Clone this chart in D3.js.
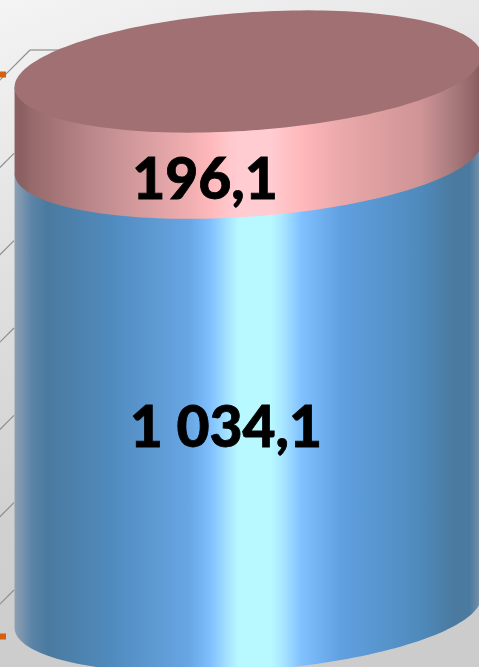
<!DOCTYPE html>
<html><head><meta charset="utf-8">
<script src="https://cdn.jsdelivr.net/npm/d3@7"></script>
<style>html,body{margin:0;padding:0;background:#ddd;overflow:hidden}svg{display:block}</style>
</head><body>
<script>
const seriesNames = ["blue", "rose"];
const seriesValues = [1034.1, 196.1];
const valueLabels = ["1 034,1", "196,1"];
const axisTicks = [0, 200, 400, 600, 800, 1000, 1200];
const surfaceOffsets = [0, 0.015, 0.035, 0.07, 0.2, 0.375, 0.42, 0.46, 0.48, 0.55, 0.575, 0.615, 0.70, 0.87, 0.94, 0.975, 1];
const blueShades = ["#8ba0b3","#7b95ad","#5c85a8","#4a7aa0","#4f8abc","#68a6e4","#80c0ff","#a8e6ff","#b8f8ff","#b8f8ff","#a8e6ff","#80c0ff","#60a0e0","#4f8abc","#4a7aa0","#4a7aa0","#7d93a8"];
const roseShades = ["#8a6062","#8a6062","#96696b","#a07173","#c48f92","#f0aeb0","#ffb8bb","#ffc8cc","#ffccd2","#ffccd2","#ffc4c8","#ffb8bb","#eaa8aa","#cf9496","#a87a7c","#98696c","#85595c"];
const roofColor = "#a07073";
const W = 479, H = 667;
const svg = d3.select("body").append("svg").attr("width", W).attr("height", H);
const defs = svg.append("defs");
const bg = defs.append("linearGradient").attr("id","bg").attr("x1",0).attr("y1",0).attr("x2",0.25).attr("y2",1);
[[0,"#f4f4f4"],[0.35,"#e2e2e2"],[0.75,"#d0d0d0"],[1,"#cccccc"]].forEach(d=>bg.append("stop").attr("offset",d[0]).attr("stop-color",d[1]));
svg.append("rect").attr("width",W).attr("height",H).attr("fill","url(#bg)");

const y = d3.scaleLinear().domain([0, 1230.2]).range([612, 71.5]);
const x = d3.scaleLinear().domain([-1, 1]).range([14, 482]);
const cx = x(0), a = (x(1) - x(-1)) / 2, b = 59, tilt = -4.07;
const rad = tilt * Math.PI / 180;
const extX = Math.sqrt(a*a*Math.cos(rad)**2 + b*b*Math.sin(rad)**2);
const extY = (a*a - b*b) * Math.sin(-rad) * Math.cos(rad) / extX;

function gradient(id, colors) {
  const g = defs.append("linearGradient").attr("id", id).attr("gradientUnits","userSpaceOnUse")
    .attr("x1", cx - extX).attr("x2", cx + extX).attr("y1", 0).attr("y2", 0);
  surfaceOffsets.forEach((o,i)=>g.append("stop").attr("offset",o).attr("stop-color",colors[i]));
}
gradient("g0", blueShades); gradient("g1", roseShades);

const grid = svg.append("g").attr("fill","none").attr("stroke","#8e8e8e").attr("stroke-width",1.2);
const wall = d3.scaleLinear().domain([0,1200]).range([590, 66]);
axisTicks.forEach(t=>{
  const yy = wall(t);
  grid.append("line").attr("x1",-2).attr("y1",yy+16).attr("x2",x(-1)+ (t===1200?16:0)).attr("y2",yy+16-(x(-1)+2+(t===1200?16:0)));
});
const topY = wall(1200)+16-(x(-1)+2+16);
grid.append("line").attr("x1",x(-1)+16).attr("y1",topY).attr("x2",60).attr("y2",topY);
svg.selectAll("rect.mark").data([74.5,636.5]).join("rect").attr("class","mark")
  .attr("x",0).attr("y",d=>d-3).attr("width",6).attr("height",6).attr("fill","#d2600e");

const ell = (yc)=>{
  const n = 180, pts = d3.range(n).map(i=>{
    const t = i/n*2*Math.PI, ex=a*Math.cos(t), ey=b*Math.sin(t);
    return [cx+ex*Math.cos(rad)-ey*Math.sin(rad), yc+ex*Math.sin(rad)+ey*Math.cos(rad)];
  });
  return "M"+pts.join("L")+"Z";
};
const side = (y0,y1)=> ell(y0) + `M${cx-extX},${y0+extY}L${cx-extX},${y1+extY}L${cx+extX},${y1-extY}L${cx+extX},${y0-extY}Z`;

let acc = 0;
seriesValues.forEach((v,i)=>{
  const y0 = y(acc), y1 = y(acc+v);
  svg.append("path").attr("class","segment-"+seriesNames[i]).attr("d", side(y0,y1)).attr("fill",`url(#g${i})`).attr("fill-rule","nonzero");
  acc += v;
});
svg.append("path").attr("d", ell(y(acc))).attr("fill", roofColor);

const lx = [226, 205], ly = [447, 199];
svg.selectAll("text.val").data(valueLabels).join("text").attr("class","val")
  .attr("x",(d,i)=>lx[i]).attr("y",(d,i)=>ly[i]).attr("text-anchor","middle")
  .attr("font-family","Lato, 'Open Sans', sans-serif").attr("font-weight",900).attr("font-size",57)
  .attr("stroke","#000").attr("stroke-width",0.8)
  .attr("fill","#000").text(d=>d);
</script>
</body></html>
